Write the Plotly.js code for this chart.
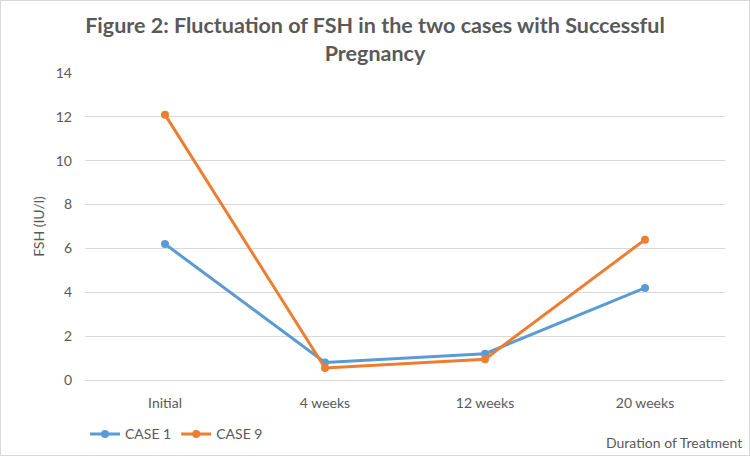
<!DOCTYPE html>
<html><head><meta charset="utf-8">
<script src="https://cdn.plot.ly/plotly-3.0.1.min.js"></script>
<style>
html,body{margin:0;padding:0;background:#fff;}
#wrap{position:relative;width:750px;height:456px;}
#chart{width:750px;height:456px;}
#border{position:absolute;left:0;top:0;width:748px;height:454px;border:1px solid #d9d9d9;pointer-events:none;}
</style></head>
<body>
<div id="wrap"><div id="chart"></div><div id="border"></div></div>
<script>
const categories = ["Initial", "4 weeks", "12 weeks", "20 weeks"];
const case1 = [6.2, 0.8, 1.2, 4.2];
const case9 = [12.1, 0.55, 0.95, 6.4];
const yTicks = [0, 2, 4, 6, 8, 10, 12, 14];

const font = "Lato, Open Sans, sans-serif";
const grey = "#595959";

const traces = [
  {x: categories, y: case1, name: "CASE 1", type: "scatter", mode: "lines+markers",
   line: {color: "#5B9BD5", width: 3}, marker: {color: "#5B9BD5", size: 8}},
  {x: categories, y: case9, name: "CASE 9", type: "scatter", mode: "lines+markers",
   line: {color: "#ED7D31", width: 3}, marker: {color: "#ED7D31", size: 8}}
];

const layout = {
  width: 750, height: 456,
  margin: {l: 85, r: 25, t: 73, b: 76, autoexpand: false},
  paper_bgcolor: "#fff", plot_bgcolor: "#fff",
  font: {family: font, color: grey, size: 13},
  title: {text: "Figure 2: Fluctuation of FSH in the two cases with Successful<br>Pregnancy",
          font: {family: font, size: 21.5, color: grey, weight: "bold"},
          x: 0.5, xanchor: "center", y: 1 - 33/456, yanchor: "middle", yref: "container"},
  xaxis: {type: "category", range: [-0.5, 3.5], showgrid: false, zeroline: false, showline: true,
          linecolor: "#d9d9d9", linewidth: 1, ticks: "", tickfont: {size: 14, color: grey},
          ticklabelstandoff: 10, automargin: false},
  yaxis: {range: [0, 14], tickvals: yTicks, showgrid: true, gridcolor: "#d9d9d9",
          zeroline: false, showline: false, ticks: "", tickfont: {size: 14, color: grey},
          ticklabelstandoff: 12, automargin: false,
          title: {text: "FSH (IU/l)", font: {size: 14, color: grey}, standoff: 7}},
  showlegend: true,
  legend: {orientation: "h", x: 0, xanchor: "left", y: -0.125, yanchor: "top",
           font: {size: 14, color: grey}, traceorder: "normal", itemwidth: 30},
  annotations: [{text: "Duration of Treatment", xref: "paper", yref: "paper",
                 x: 1.03, xanchor: "right", y: -0.17, yanchor: "top", showarrow: false,
                 font: {size: 14, color: grey}}]
};

Plotly.newPlot("chart", traces, layout, {displayModeBar: false, staticPlot: true});
</script>
</body></html>
